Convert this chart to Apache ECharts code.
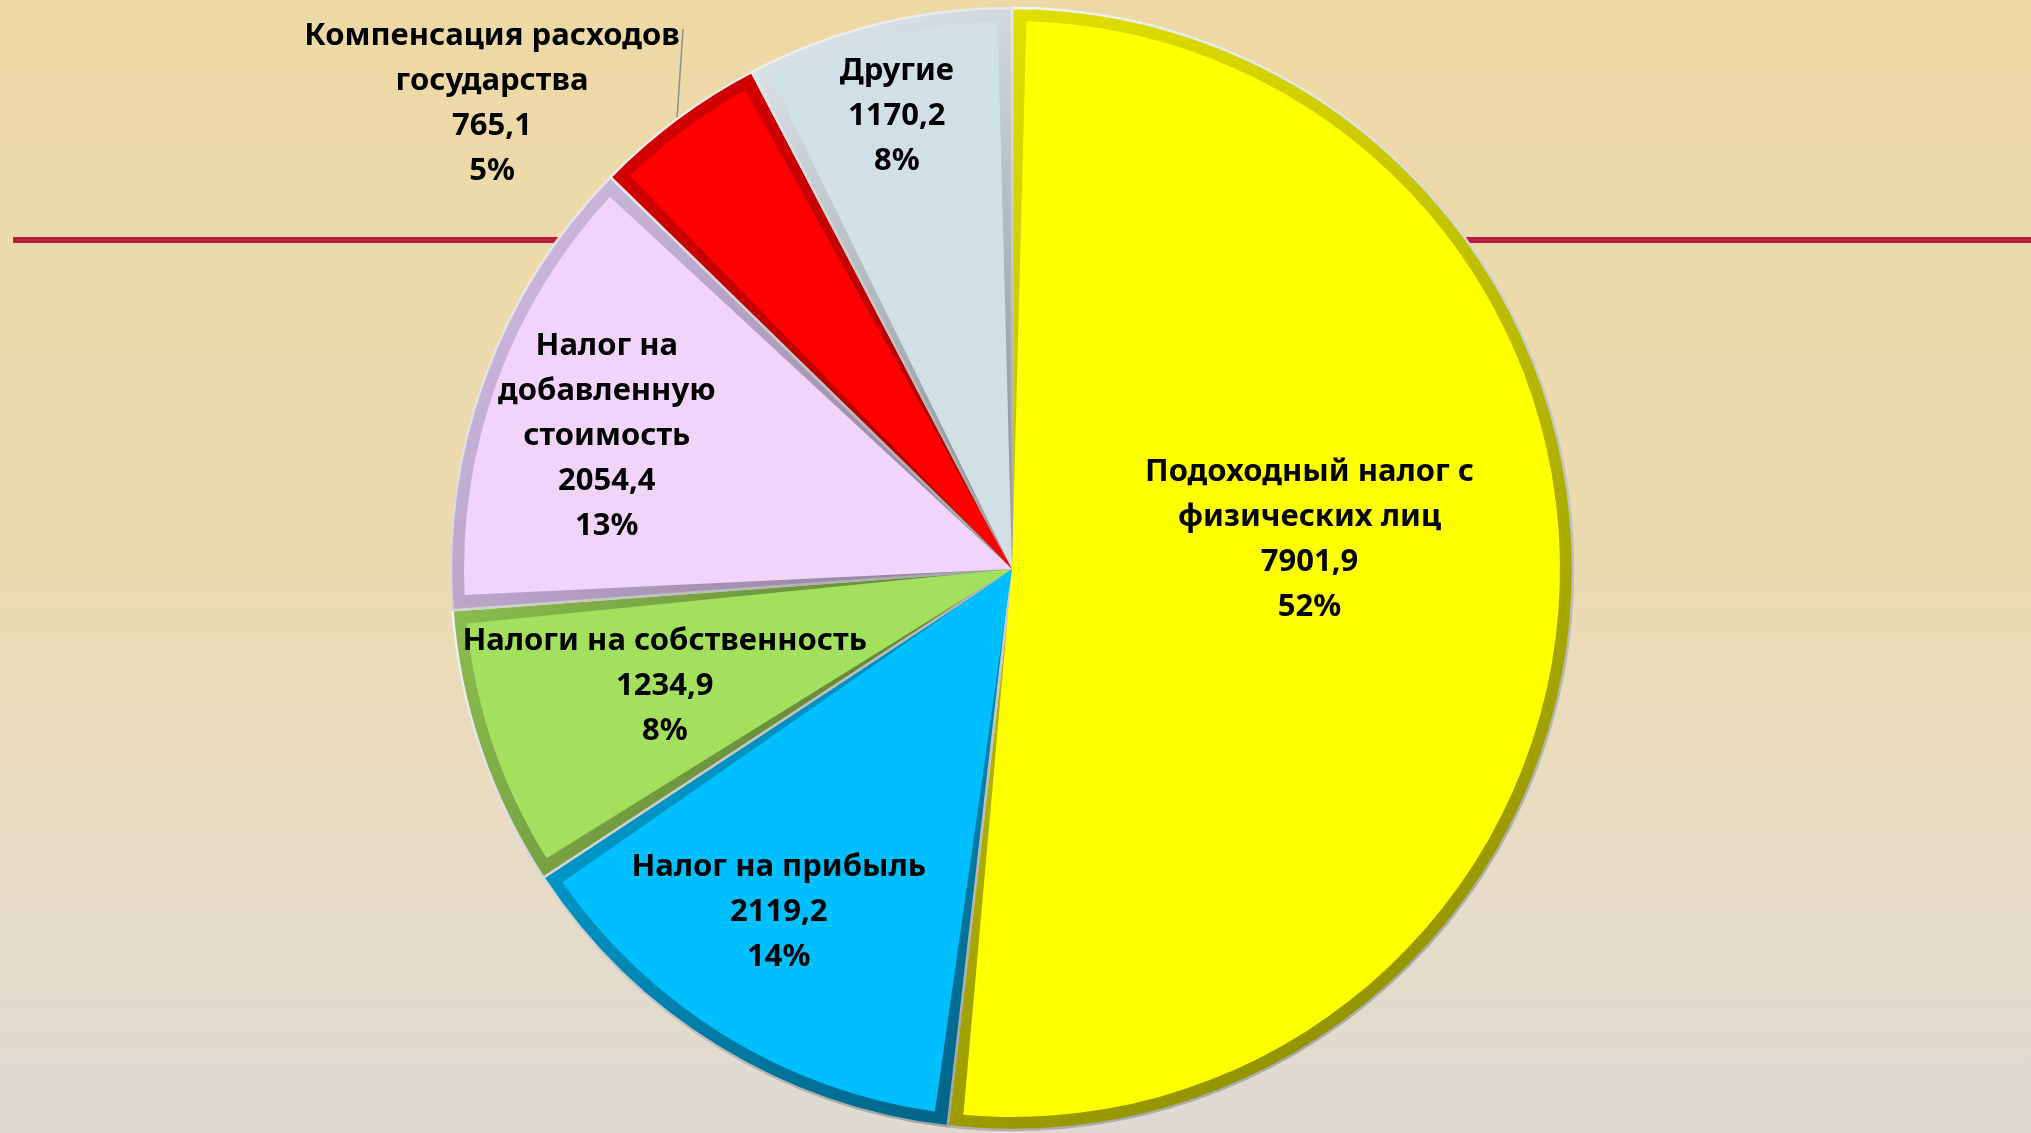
<!DOCTYPE html>
<html>
<head>
<meta charset="utf-8">
<script src="https://cdn.jsdelivr.net/npm/echarts@6/dist/echarts.min.js"></script>
<style>
html,body{margin:0;padding:0;width:2031px;height:1133px;overflow:hidden;}
#chart{width:2031px;height:1133px;}
</style>
</head>
<body>
<div id="chart"></div>
<script>
// ---- data ----
var categories = [
  'Подоходный налог с\nфизических лиц',
  'Налог на прибыль',
  'Налоги на собственность',
  'Налог на\nдобавленную\nстоимость',
  'Компенсация расходов\nгосударства',
  'Другие'
];
var values = [7901.9, 2119.2, 1234.9, 2054.4, 765.1, 1170.2];

// ---- styles ----
var faceColors = ['#FFFF00', '#00BFFF', '#A2E05E', '#F0D4FA', '#FF0000', '#D1DFE6'];
var rimLight  = ['#E2E200', '#00B0E8', '#8CC050', '#D6C2E8', '#D80000', '#E2EAEF'];
var rimDark   = ['#868600', '#005F80', '#526A2C', '#8A7896', '#A80000', '#7E898F'];
var labelShift = [[21, -45], [-88, 107], [-85, 28], [-145, -38], [0, 0], [-49, -184]];
var CENTER = [1012, 569];
var OUTER_R = 561, FACE_R = 548;
var OUTSIDE_INDEX = 4;

function fmt(v) { return v.toFixed(1).replace('.', ','); }

var chart = echarts.init(document.getElementById('chart'), null, {renderer: 'canvas'});

function grad(a, b) {
  return new echarts.graphic.LinearGradient(0, 0, 1, 1, [
    {offset: 0, color: a},
    {offset: 1, color: b}
  ]);
}

var rimData = values.map(function (v, i) {
  return {
    name: categories[i], value: v,
    itemStyle: {color: grad(rimLight[i], rimDark[i]), borderColor: grad('#F6F6F6', '#9C9C9C')},
    label: {show: i === OUTSIDE_INDEX},
    labelLine: {show: i === OUTSIDE_INDEX}
  };
});
var faceData = values.map(function (v, i) {
  return {
    name: categories[i], value: v,
    itemStyle: {color: faceColors[i]},
    label: {show: i !== OUTSIDE_INDEX}
  };
});

var labelText = function (p) {
  return p.name + '\n' + fmt(p.value) + '\n' + Math.round(p.percent) + '%';
};
var labelStyle = {
  formatter: labelText,
  color: '#000',
  fontFamily: '"Noto Sans", "Open Sans", sans-serif',
  fontWeight: 'bold',
  fontSize: 31,
  lineHeight: 45,
  align: 'center'
};

var option = {
  backgroundColor: new echarts.graphic.LinearGradient(0, 0, 0, 1, [
    {offset: 0, color: '#EDD9A5'},
    {offset: 0.5, color: '#ECDBB0'},
    {offset: 0.75, color: '#E7DCC6'},
    {offset: 1, color: '#DEDAD3'}
  ]),
  animation: false,
  graphic: [{
    type: 'rect', z: 0,
    shape: {x: 13, y: 237, width: 2031 - 13, height: 6},
    style: {fill: '#B81D42'}
  }],
  series: [
    {
      type: 'pie', z: 5,
      center: CENTER, radius: [0, OUTER_R],
      startAngle: 90, clockwise: true,
      silent: true,
      itemStyle: {borderWidth: 2.5},
      label: Object.assign({position: 'outside'}, labelStyle),
      labelLine: {show: true, lineStyle: {color: '#8E8E8E', width: 1.5}},
      labelLayout: function (p) {
        if (p.dataIndex !== OUTSIDE_INDEX) return {};
        var pts = p.labelLinePoints;
        if (!pts || !pts[0]) return {};
        var p0 = pts[0];
        return {
          x: p0[0] - 185, y: p0[1] - 15,
          align: 'center', verticalAlign: 'middle',
          labelLinePoints: [p0, [p0[0] + 6, p0[1] - 90]]
        };
      },
      data: rimData
    },
    {
      type: 'pie', z: 6,
      center: CENTER, radius: [0, FACE_R],
      startAngle: 90, clockwise: true,
      padAngle: 3,
      silent: true,
      label: Object.assign({position: 'inside'}, labelStyle),
      labelLine: {show: false},
      labelLayout: function (p) {
        var s = labelShift[p.dataIndex] || [0, 0];
        return {dx: s[0], dy: s[1]};
      },
      data: faceData
    }
  ]
};
chart.setOption(option);
</script>
</body>
</html>
